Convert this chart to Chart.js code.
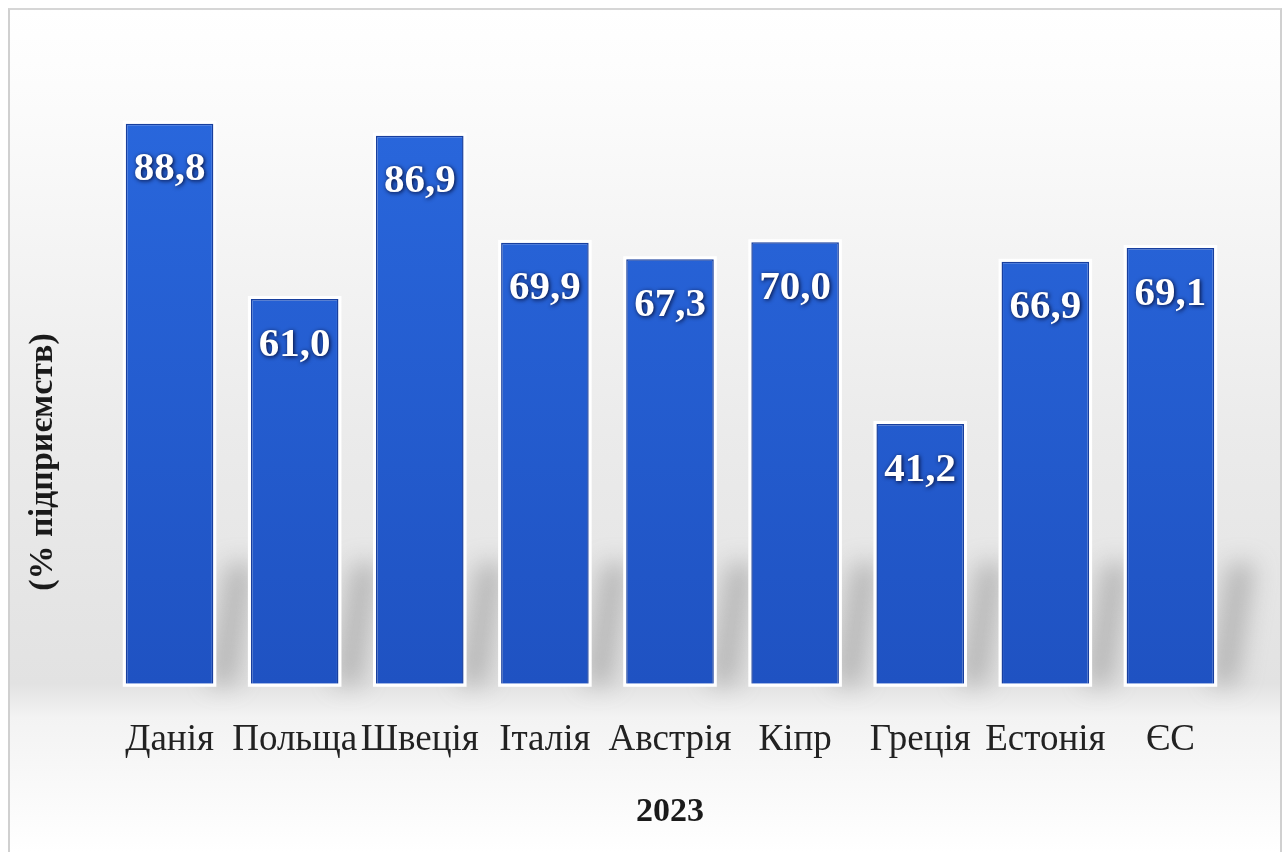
<!DOCTYPE html>
<html lang="uk">
<head>
<meta charset="utf-8">
<title>Підприємства 2023</title>
<script src="https://cdn.jsdelivr.net/npm/chart.js@4"></script>
<style>
  html, body { margin: 0; padding: 0; background: #fff; overflow: hidden; }
  #frame {
    position: absolute; left: 8px; top: 8px; width: 1270px; height: 860px;
    border-left: 2px solid #d0d0d0; border-top: 2px solid #d6d6d6; border-right: 2px solid #d0d0d0;
  }
  #wrap { position: absolute; left: 0; top: 0; width: 1270px; height: 842px; }
</style>
</head>
<body>
<div id="frame"><div id="wrap"><canvas id="barChart"></canvas></div></div>
<script>
// chart data
const categories = ['Данія', 'Польща', 'Швеція', 'Італія', 'Австрія', 'Кіпр', 'Греція', 'Естонія', 'ЄС'];
const values = [88.8, 61.0, 86.9, 69.9, 67.3, 70.0, 41.2, 66.9, 69.1];
const yTitle = '(% підприємств)';
const xTitle = '2023';

const serif = '"Liberation Serif", "Times New Roman", serif';

// soft grey background behind the plot
const backdrop = {
    id: 'backdrop',
    beforeDraw(chart) {
        const { ctx, width, height } = chart;
        const g = ctx.createLinearGradient(0, 0, 0, height);
        g.addColorStop(0, '#ffffff');
        g.addColorStop(0.12, '#fbfbfb');
        g.addColorStop(0.5, '#ebebeb');
        g.addColorStop(0.8, '#e2e2e2');
        g.addColorStop(0.84, '#f3f3f3');
        g.addColorStop(1, '#ffffff');
        ctx.save();
        ctx.fillStyle = g;
        ctx.fillRect(0, 0, width, height);
        ctx.restore();
    }
};

// blurred floor shadows and white glow behind each bar
const barShadows = {
    id: 'barShadows',
    beforeDatasetsDraw(chart) {
        const { ctx } = chart;
        const bottom = chart.scales.y.bottom;
        ctx.save();
        ctx.filter = 'blur(12px)';
        ctx.fillStyle = 'rgba(120,120,120,0.45)';
        chart.getDatasetMeta(0).data.forEach(bar => {
            const w = bar.width;
            const x = bar.x + w / 2;
            ctx.beginPath();
            ctx.moveTo(x - 4, bottom);
            ctx.lineTo(x + 22, bottom);
            ctx.lineTo(x + 40, bottom - 120);
            ctx.lineTo(x + 14, bottom - 120);
            ctx.closePath();
            ctx.fill();
        });
        ctx.filter = 'none';
        ctx.fillStyle = '#ffffff';
        chart.getDatasetMeta(0).data.forEach(bar => {
            const w = bar.width;
            ctx.fillRect(bar.x - w / 2 - 3, bar.y - 3, w + 6, bottom - bar.y + 6);
        });
        ctx.restore();
    }
};

// value labels inside the bars
const valueLabels = {
    id: 'valueLabels',
    afterDatasetsDraw(chart) {
        const { ctx } = chart;
        ctx.save();
        ctx.font = 'bold 41px ' + serif;
        ctx.textAlign = 'center';
        ctx.textBaseline = 'middle';
        ctx.fillStyle = '#ffffff';
        ctx.shadowColor = 'rgba(0,0,30,0.9)';
        ctx.shadowBlur = 4;
        ctx.shadowOffsetX = 1;
        ctx.shadowOffsetY = 1;
        chart.getDatasetMeta(0).data.forEach((bar, i) => {
            ctx.fillText(values[i].toFixed(1).replace('.', ','), bar.x, bar.y + 46);
        });
        ctx.restore();
    }
};

// rotated y title, sits lower than the axis centre like the original
const yTitlePlugin = {
    id: 'yTitlePlugin',
    afterDraw(chart) {
        const { ctx } = chart;
        ctx.save();
        ctx.translate(33, 452);
        ctx.rotate(-Math.PI / 2);
        ctx.font = 'bold 34px ' + serif;
        ctx.fillStyle = '#1a1a1a';
        ctx.textAlign = 'center';
        ctx.textBaseline = 'middle';
        ctx.fillText(yTitle, 0, 0);
        ctx.restore();
    }
};

const bar = document.getElementById('barChart');
new Chart(bar, {
    type: 'bar',
    data: {
        labels: categories,
        datasets: [{
            data: values,
            backgroundColor: (c) => {
                const area = c.chart.chartArea;
                if (!area) return '#2461d6';
                const g = c.chart.ctx.createLinearGradient(0, area.top, 0, area.bottom);
                g.addColorStop(0, '#2a69df');
                g.addColorStop(1, '#1f52c2');
                return g;
            },
            borderColor: '#183f9e',
            borderWidth: 1.5,
            categoryPercentage: 1,
            barPercentage: 0.7
        }]
    },
    options: {
        responsive: true,
        maintainAspectRatio: false,
        animation: false,
        layout: { padding: { left: 97, right: 47, top: 43, bottom: 19 } },
        plugins: { legend: { display: false }, tooltip: { enabled: false } },
        scales: {
            y: { display: false, min: 0, max: 100 },
            x: {
                grid: { display: false },
                border: { display: false },
                ticks: { color: '#222', font: { family: serif, size: 37 }, padding: 26, autoSkip: false, maxRotation: 0 },
                title: { display: true, text: xTitle, color: '#1a1a1a', font: { family: serif, size: 34, weight: 'bold' }, padding: { top: 4, bottom: 0 } }
            }
        }
    },
    plugins: [backdrop, barShadows, valueLabels, yTitlePlugin]
});
</script>
</body>
</html>
